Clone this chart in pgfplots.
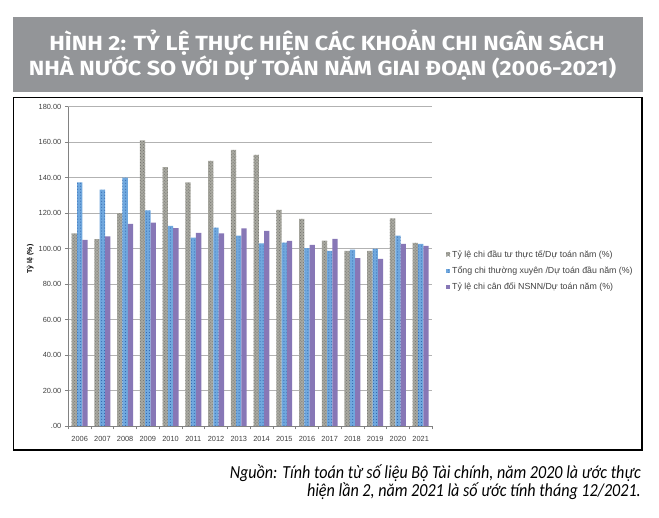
\documentclass[border=0pt]{standalone}
\usepackage{pgfplots}
\pgfplotsset{compat=1.18}
\usetikzlibrary{patterns}
\usepackage{fontspec}
\setmainfont{Liberation Sans}
\newfontfamily\titlefont[FakeStretch=1.14]{Fira Sans}
\newfontfamily\srcfont[FakeStretch=0.875]{Carlito}

\definecolor{banner}{RGB}{147,149,152}
\definecolor{cgray}{RGB}{168,168,160}
\definecolor{cgraydk}{RGB}{112,112,108}
\definecolor{cblue}{RGB}{112,168,222}
\definecolor{cbluedk}{RGB}{40,92,165}
\definecolor{cpurple}{RGB}{135,119,182}
\definecolor{tickc}{RGB}{64,64,64}
\definecolor{axisc}{RGB}{130,130,130}
\definecolor{gridc}{RGB}{178,178,178}

% x = year index (2006 -> 0)
\pgfplotstableread{
x   dautu  thuongxuyen  candoi
0   108.6  137.4  104.9
1   105.4  133.2  106.9
2   120.0  140.0  113.9
3   161.0  121.6  114.6
4   146.0  112.8  111.6
5   137.4  106.2  108.8
6   149.4  111.8  108.6
7   155.6  107.3  111.4
8   152.8  103.0  110.0
9   121.8  103.4  104.3
10  116.7  100.2  102.1
11  104.5   98.7  105.5
12   98.7   99.4   94.6
13   98.7   99.8   94.2
14  117.1  107.3  102.6
15  103.2  102.6  101.5
}\chidata

\begin{document}
\begin{tikzpicture}[x=1bp,y=1bp]
\path[use as bounding box] (0,0) rectangle (659,518);
\fill[banner] (13.3,426.3) rectangle (643,501.3);
\node[anchor=base, text=white, inner sep=0pt, font=\titlefont\bfseries\fontsize{20.5bp}{22bp}\selectfont]
  at (327,467.3) {HÌNH 2: TỶ LỆ THỰC HIỆN CÁC KHOẢN CHI NGÂN SÁCH};
\node[anchor=base, text=white, inner sep=0pt, font=\titlefont\bfseries\fontsize{20.5bp}{22bp}\selectfont]
  at (322.5,442.3) {NHÀ NƯỚC SO VỚI DỰ TOÁN NĂM GIAI ĐOẠN (2006-2021)};
\draw[line width=1.2bp] (13.3,68) rectangle (642,420.7);

\begin{axis}[
at={(68.3bp,92bp)}, anchor=south west,
scale only axis,
width=363.7bp, height=319.3bp,
ybar=0pt, bar width=5.3bp,
xmin=-0.5, xmax=15.5,
ymin=0, ymax=180,
xtick={0,...,15},
xticklabels={2006,2007,2008,2009,2010,2011,2012,2013,2014,2015,2016,2017,2018,2019,2020,2021},
minor xtick={-0.5,0.5,...,15.5},
ytick={0,20,...,180},
yticklabels={.00,20.00,40.00,60.00,80.00,100.00,120.00,140.00,160.00,180.00},
axis x line*=bottom, axis y line*=left,
axis line style={draw=axisc, line width=0.6bp},
tick align=outside,
major x tick style={draw=none},
minor x tick style={draw=axisc, line width=0.6bp},
major y tick style={draw=axisc, line width=0.6bp},
major tick length=3.5bp, minor tick length=3.5bp,
ymajorgrids,
major grid style={draw=gridc, line width=0.6bp},
/pgf/number format/assume math mode=true,
ticklabel style={font=\fontsize{7.4bp}{8bp}\selectfont, text=tickc},
xticklabel style={yshift=-3bp},
ylabel={Tỷ lệ (\%)},
ylabel style={font=\bfseries\fontsize{7bp}{8bp}\selectfont, at={(axis description cs:-0.105,0.523)}, anchor=center},
legend style={at={(axis description cs:1.0385,0.557)}, anchor=north west, draw=none, fill=none,
  font=\fontsize{8.8bp}{9bp}\selectfont, text=tickc, row sep=4bp, inner sep=0pt},
legend cell align=left,
legend image code/.code={\fill[#1] (0bp,-2bp) rectangle (4bp,2bp);},
]
\addplot[draw=none, fill=cgray, postaction={pattern=crosshatch dots, pattern color=cgraydk}] table[x=x, y=dautu] {\chidata};
\addplot[draw=none, fill=cblue, postaction={pattern=dots, pattern color=cbluedk}] table[x=x, y=thuongxuyen] {\chidata};
\addplot[draw=none, fill=cpurple] table[x=x, y=candoi] {\chidata};
\legend{Tỷ lệ chi đầu tư thực tế/Dự toán năm (\%),Tổng chi thường xuyên /Dự toán đầu năm (\%),Tỷ lệ chi cân đối NSNN/Dự toán năm (\%)}
\end{axis}

\node[anchor=base east, inner sep=0pt, font=\srcfont\itshape\fontsize{18.4bp}{20bp}\selectfont]
  at (641,39.7) {Nguồn: Tính toán từ số liệu Bộ Tài chính, năm 2020 là ước thực};
\node[anchor=base east, inner sep=0pt, font=\srcfont\itshape\fontsize{18.4bp}{20bp}\selectfont]
  at (641,21.5) {hiện lần 2, năm 2021 là số ước tính tháng 12/2021.};
\end{tikzpicture}
\end{document}
